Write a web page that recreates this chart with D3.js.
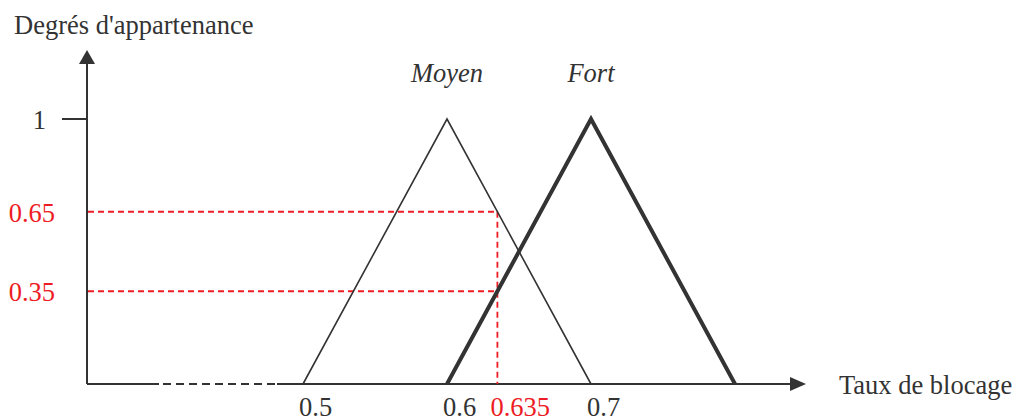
<!DOCTYPE html>
<html lang="fr">
<head>
<meta charset="UTF-8">
<title>Degrés d'appartenance</title>
<style>
  body { margin: 0; background: #fff; }
  text { font-family: "Liberation Serif", "Times New Roman", serif; }
</style>
</head>
<body>
<script src="https://d3js.org/d3.v7.min.js"></script>
<script>
  // taille de la figure
  let width = 1017;
  let height = 418;

  // données
  let moyen = [[0.5, 0], [0.6, 1], [0.7, 0]];
  let fort = [[0.6, 0], [0.7, 1], [0.8, 0]];
  let xLabels = [0.5, 0.6, 0.7];
  let yLabels = [1];
  let xCut = 0.635;
  let degres = [0.65, 0.35];
  let names = ['Moyen', 'Fort'];

  let dark = '#333';
  let red = '#ed1c24';
  let fs = 26.5;

  // l'axe des x est coupé entre l'origine et 0.5
  let x0 = 87, y0 = 384;
  let xScale = d3.scaleLinear().domain([0.5, 0.8]).range([303, 735]);
  let yScale = d3.scaleLinear().domain([0, 1]).range([y0, 119]);

  let svg = d3.select('body')
      .append('svg')
      .attr('width', width)
      .attr('height', height);

  // axes
  let ax = svg.append('g').attr('stroke', dark).attr('stroke-width', 2);
  ax.append('line').attr('x1', x0).attr('y1', y0).attr('x2', 159).attr('y2', y0);
  ax.append('line').attr('x1', 163).attr('y1', y0).attr('x2', 276).attr('y2', y0)
      .attr('stroke-dasharray', '8,5');
  ax.append('line').attr('x1', 277).attr('y1', y0).attr('x2', 792).attr('y2', y0);
  ax.append('line').attr('x1', x0).attr('y1', y0).attr('x2', x0).attr('y2', 62);

  svg.append('path')
      .attr('d', 'M806,' + y0 + 'L790,' + (y0 - 7) + 'L790,' + (y0 + 7) + 'Z')
      .attr('fill', dark);
  svg.append('path')
      .attr('d', 'M' + x0 + ',50L' + (x0 - 8) + ',64L' + (x0 + 8) + ',64Z')
      .attr('fill', dark);

  // graduation 1
  svg.selectAll('.ytick')
      .data(yLabels)
      .enter()
      .append('line')
      .attr('x1', 62).attr('x2', x0)
      .attr('y1', function(d) { return yScale(d); })
      .attr('y2', function(d) { return yScale(d); })
      .attr('stroke', dark).attr('stroke-width', 2);
  svg.selectAll('.ylab')
      .data(yLabels)
      .enter()
      .append('text')
      .attr('x', 46)
      .attr('y', function(d) { return yScale(d) + 10; })
      .attr('text-anchor', 'end')
      .attr('font-size', fs)
      .attr('fill', dark)
      .text(function(d) { return d; });

  // lignes rouges en pointillé
  let guides = svg.append('g')
      .attr('stroke', red).attr('stroke-width', 1.8)
      .attr('stroke-dasharray', '6,4').attr('fill', 'none');
  guides.selectAll('line.h')
      .data(degres)
      .enter()
      .append('line')
      .attr('x1', x0 + 1).attr('x2', xScale(xCut))
      .attr('y1', function(d) { return yScale(d); })
      .attr('y2', function(d) { return yScale(d); });
  guides.append('line')
      .attr('x1', xScale(xCut)).attr('x2', xScale(xCut))
      .attr('y1', yScale(d3.max(degres))).attr('y2', y0);

  svg.selectAll('.dlab')
      .data(degres)
      .enter()
      .append('text')
      .attr('x', 55)
      .attr('y', function(d) { return yScale(d) + 10; })
      .attr('text-anchor', 'end')
      .attr('font-size', fs)
      .attr('fill', red)
      .text(function(d) { return d; });

  // fonctions d'appartenance
  let line = d3.line()
      .x(function(d) { return xScale(d[0]); })
      .y(function(d) { return yScale(d[1]); });

  svg.append('path')
      .attr('d', line(moyen))
      .attr('fill', 'none').attr('stroke', dark).attr('stroke-width', 1.6);
  svg.append('path')
      .attr('d', line(fort))
      .attr('fill', 'none').attr('stroke', dark).attr('stroke-width', 4)
      .attr('stroke-linejoin', 'miter');

  svg.selectAll('.name')
      .data([moyen, fort])
      .enter()
      .append('text')
      .attr('x', function(d) { return xScale(d[1][0]); })
      .attr('y', 82)
      .attr('text-anchor', 'middle')
      .attr('font-size', fs)
      .attr('font-style', 'italic')
      .attr('fill', dark)
      .text(function(d, i) { return names[i]; });

  // étiquettes de l'axe des x
  svg.selectAll('.xlab')
      .data(xLabels)
      .enter()
      .append('text')
      .attr('x', function(d) { return xScale(d) - 4; })
      .attr('y', 416)
      .attr('font-size', fs)
      .attr('fill', dark)
      .text(function(d) { return d; });
  svg.append('text')
      .attr('x', xScale(xCut) - 7)
      .attr('y', 416)
      .attr('font-size', fs)
      .attr('fill', red)
      .text(xCut);

  // titres des axes
  svg.append('text')
      .attr('x', 14).attr('y', 34)
      .attr('font-size', fs)
      .attr('fill', dark)
      .text("Degrés d'appartenance");
  svg.append('text')
      .attr('x', 839).attr('y', 394)
      .attr('font-size', fs)
      .attr('fill', dark)
      .text('Taux de blocage');
</script>
</body>
</html>
